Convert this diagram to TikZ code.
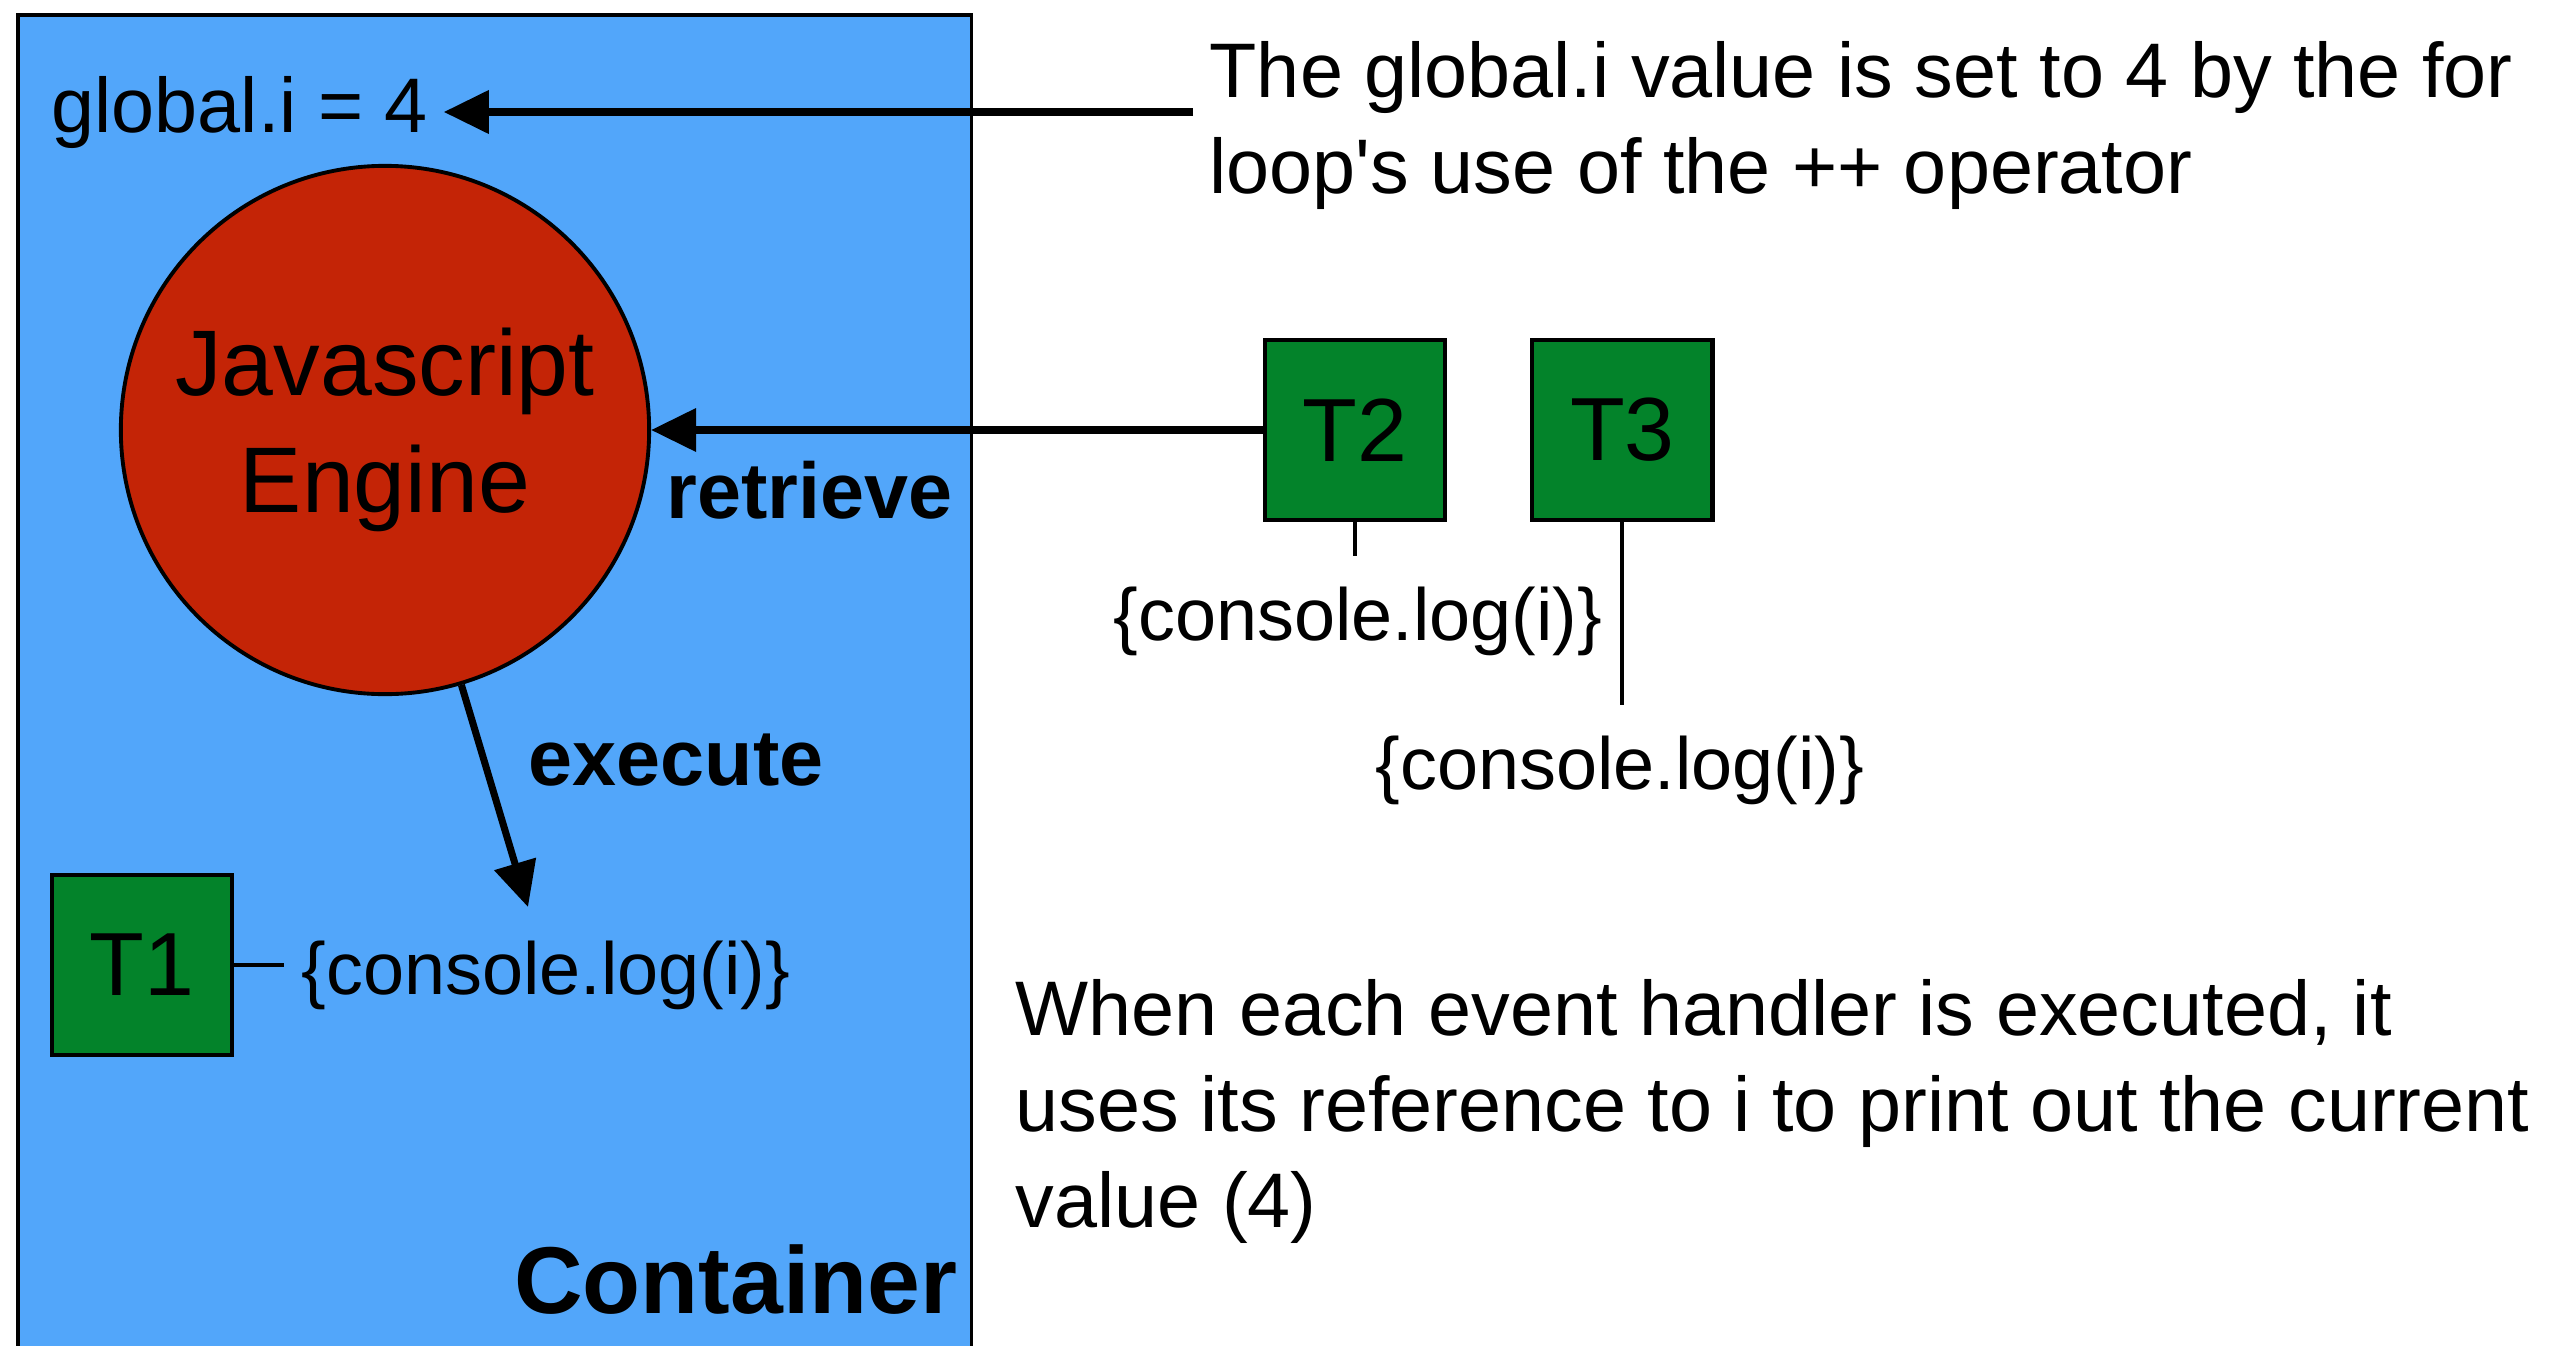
\documentclass[tikz,border=0pt]{standalone}
\usepackage{fontspec}
\setmainfont{Liberation Sans}
\usetikzlibrary{arrows.meta, positioning, calc}

\definecolor{contblue}{RGB}{82,166,250}
\definecolor{engred}{RGB}{196,36,6}
\definecolor{taskgreen}{RGB}{3,131,42}

\begin{document}
\begin{tikzpicture}[
    x=0.01cm, y=-0.01cm,
    container/.style={rectangle, draw, line width=1.1pt, fill=contblue, minimum width=9.53cm, minimum height=14cm},
    engine/.style={circle, draw, line width=1.1pt, fill=engred, minimum size=5.28cm, inner sep=0pt, align=center, font=\fontsize{26.5}{33.3}\selectfont},
    task/.style={rectangle, draw, line width=1.2pt, fill=taskgreen, minimum width=1.8cm, minimum height=1.8cm, font=\fontsize{25.5}{30}\selectfont},
    code/.style={font=\fontsize{21}{26}\selectfont, inner xsep=0.17cm, inner ysep=0.3cm},
    note/.style={font=\fontsize{22}{27.3}\selectfont, align=left, inner sep=0pt},
    label/.style={font=\fontsize{22.5}{27}\selectfont\bfseries, inner sep=0pt},
    title/.style={font=\fontsize{27}{32}\selectfont\bfseries, inner sep=0pt},
    arrow/.style={-{Triangle[length=0.45cm, width=0.42cm]}, line width=2pt},
    link/.style={line width=1.1pt}
]
    \useasboundingbox (0,0) rectangle (2563,1345);

    % Container
    \node[container, anchor=north west] (cont) at (16,13) {};
    \node[title, anchor=base east] (conttitle) at (958,1313) {Container};

    % Global value
    \node[note, anchor=base west] (global) at (51,132) {global.i = 4};

    % Engine
    \node[engine] (engine) at (385,430) {Javascript\\Engine};

    % --- Tasks ---
    \node[task] (t1) at (142,965) {T1};
    \node[task] (t2) at (1355,430) {T2};
    \node[task, right=0.83cm of t2] (t3) {T3};

    \node[code, anchor=base west] (t1code) at (284,994) {\{console.log(i)\}};
    \node[code, anchor=base west] (t2code) at (1096,640) {\{console.log(i)\}};
    \node[code, anchor=base west] (t3code) at (1358,789) {\{console.log(i)\}};

    \draw[link] (t1.east) -- (t1.east -| t1code.west);
    \draw[link] (t2.south) -- (t2.south |- t2code.north);
    \draw[link] (t3.south) -- (t3.south |- t3code.north);

    % --- Arrows ---
    \draw[arrow] (t2.west) -- (engine.east);
    \node[label, anchor=base west] (retr) at (666,518) {retrieve};

    \coordinate (exectip) at (528,907);
    \draw[arrow] (engine) -- (exectip);
    \node[label, anchor=base west] (exec) at (528,785) {execute};

    % --- Notes (base = last line) ---
    \node[note, anchor=base west] (gnote) at (1209,193)
        {The global.i value is set to 4 by the for\\loop\textquotesingle s use of the ++ operator};
    \draw[arrow] ([xshift=-0.16cm]gnote.west |- global.east) -- ([xshift=0.15cm]global.east);

    \node[note, anchor=base west] (hnote) at (1015,1227)
        {When each event handler is executed, it\\uses its reference to i to print out the current\\value (4)};

\end{tikzpicture}
\end{document}
